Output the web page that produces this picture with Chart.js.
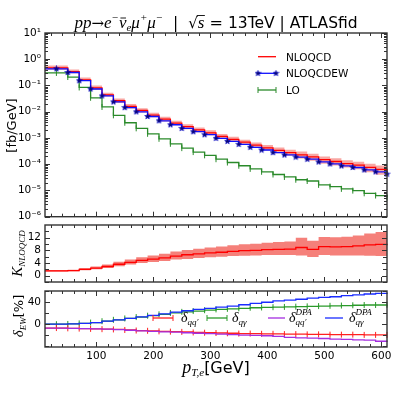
<!DOCTYPE html>
<html lang="en">
<head>
<meta charset="UTF-8">
<meta name="viewport" content="width=device-width, initial-scale=1.0">
<title>pT,e spectrum</title>
<script src="https://cdn.jsdelivr.net/npm/chart.js"></script>
<style>
  body { margin: 0; background: #fff; }
  #wrap { position: relative; width: 399px; height: 399px; overflow: hidden; }
  #wrap canvas { position: absolute; left: 0; }
  #mainChart { top: 0; }
  #kChart { top: 222px; }
  #ewChart { top: 286px; }
</style>
</head>
<body>
<div id="wrap">
  <canvas id="mainChart" width="399" height="222"></canvas>
  <canvas id="kChart" width="399" height="64"></canvas>
  <canvas id="ewChart" width="399" height="113"></canvas>
</div>
<script>
// histogram bin edges, p_T,e [GeV]
const binEdges = [10, 30, 50, 70, 90, 110, 130, 150, 170, 190, 210, 230, 250, 270, 290, 310,
                  330, 350, 370, 390, 410, 430, 450, 470, 490, 510, 530, 550, 570, 590, 610];

// top panel, dsigma/dpT [fb/GeV]
const nloqcdew = [0.433, 0.313, 0.152, 0.0736, 0.040, 0.0237, 0.0144, 0.0099, 0.00658, 0.00452,
                  0.00319, 0.00231, 0.00173, 0.00133, 0.000966, 0.000743, 0.000573, 0.000441, 0.000348, 0.000277,
                  0.000225, 0.000187, 0.000155, 0.000122, 0.000103, 0.0000861, 0.000075, 0.0000608, 0.0000511, 0.0000418];
const nloqcd = [0.465, 0.338, 0.165, 0.0804, 0.0440, 0.0262, 0.0161, 0.0112, 0.00747, 0.00519,
                0.00369, 0.00269, 0.00203, 0.00157, 0.00115, 0.000890, 0.000690, 0.000531, 0.000422, 0.000336,
                0.000275, 0.000228, 0.000190, 0.000150, 0.000127, 0.000106, 0.0000926, 0.0000755, 0.0000635, 0.0000519];
const nloqcdUp = [0.572, 0.406, 0.201, 0.0989, 0.0532, 0.0322, 0.0195, 0.0136, 0.00919, 0.00638,
                  0.00454, 0.00331, 0.00250, 0.00195, 0.00143, 0.00111, 0.000863, 0.000669, 0.000536, 0.000430,
                  0.000355, 0.000308, 0.000253, 0.000197, 0.000169, 0.000142, 0.000125, 0.000105, 0.0000895, 0.0000763];
const nloqcdDown = [0.395, 0.294, 0.147, 0.0691, 0.0378, 0.0217, 0.0134, 0.0093, 0.0062, 0.00426,
                    0.00303, 0.00215, 0.00164, 0.00127, 0.000932, 0.000721, 0.000552, 0.000425, 0.000333, 0.000262,
                    0.000212, 0.000164, 0.000135, 0.000105, 0.0000889, 0.0000742, 0.0000639, 0.0000498, 0.0000400, 0.0000322];
const lo = [0.30, 0.21, 0.084, 0.034, 0.0152, 0.0073, 0.0038, 0.00233, 0.00144, 0.00093,
            0.00060, 0.00041, 0.00029, 0.000218, 0.000155, 0.000116, 0.0000873, 0.0000664, 0.0000515, 0.0000405,
            0.0000327, 0.0000256, 0.0000229, 0.0000163, 0.0000140, 0.0000115, 0.00000985, 0.00000778, 0.00000641, 0.0000054];

// middle panel, K factor with scale band
const kFactor = [1.5, 1.6, 2.0, 2.4, 2.9, 3.6, 4.2, 4.8, 5.2, 5.6, 6.2, 6.6, 6.9, 7.2, 7.4,
                 7.7, 7.9, 8.0, 8.2, 8.3, 8.4, 8.9, 8.3, 9.2, 9.1, 9.2, 9.4, 9.7, 9.9, 9.6];
const kUp = [1.8, 1.9, 2.4, 2.9, 3.5, 4.4, 5.1, 5.8, 6.4, 6.9, 7.6, 8.1, 8.5, 8.9, 9.2,
             9.6, 9.9, 10.1, 10.4, 10.6, 10.8, 12.0, 11.0, 12.2, 12.1, 12.3, 12.7, 13.3, 13.8, 14.0];
const kDown = [1.3, 1.4, 1.7, 2.0, 2.4, 3.0, 3.5, 4.0, 4.3, 4.6, 5.1, 5.3, 5.6, 5.8, 6.0,
               6.2, 6.3, 6.4, 6.5, 6.5, 6.5, 6.4, 5.9, 6.5, 6.4, 6.4, 6.4, 6.3, 6.2, 5.9];

// bottom panel, EW corrections [%]
const dQQ = [-7, -7.5, -8, -8.5, -9, -9.5, -10.5, -11.5, -12, -13, -13.5, -14, -15, -15.5, -16,
             -16.5, -17, -17, -17.5, -17.5, -18, -18, -18.5, -18.5, -19, -19, -19, -19.5, -19.5, -19.5];
const dQG = [0, 0.5, 1.5, 3, 5.5, 8, 10.5, 13, 15.5, 18, 20.5, 22.5, 24, 25.5, 27,
             28, 29, 30, 30.5, 31, 31.5, 32, 32.5, 33, 33.5, 34, 34.5, 35, 35, 35.5];
const dQQdpa = [-7, -7.5, -8, -8.5, -9, -10, -11, -12, -13, -14, -14.5, -15.5, -16.5, -17, -18,
                -19, -20, -20.5, -21, -22, -24, -25, -25.5, -26, -27, -27.5, -28.5, -29, -31, -32.5];
const dQGdpa = [0, 0.5, 1.5, 3, 5.5, 8, 10.5, 13.5, 16, 19, 22, 24.5, 27, 29, 31,
                33, 35.5, 38, 40, 42.5, 44, 45.5, 47.5, 49, 50, 52, 53.5, 55, 56, 57.5];

// tick labels
const xTickValues = [100, 200, 300, 400, 500, 600];
const logDecades = [-6, -5, -4, -3, -2, -1, 0, 1];
const kTickValues = [0, 4, 8, 12];
const ewTickValues = [0, 40];

const SUP = { '-': '\u207B', '0': '\u2070', '1': '\u00B9', '2': '\u00B2', '3': '\u00B3',
              '4': '\u2074', '5': '\u2075', '6': '\u2076', '7': '\u2077', '8': '\u2078', '9': '\u2079' };
const supText = n => String(n).split('').map(c => SUP[c]).join('');
const fi = n => `italic ${n}px "Liberation Serif"`;
const fs = n => `${n}px "DejaVu Sans"`;

// value of bin i drawn from its left to its right edge, marker sits on the right edge
function stepPoints(vals) {
  const pts = [{ x: binEdges[0], y: vals[0] }];
  vals.forEach((v, i) => pts.push({ x: binEdges[i + 1], y: v }));
  return pts;
}
function stepSet(label, vals, style) {
  return Object.assign({
    label: label, data: stepPoints(vals), stepped: 'before', fill: false,
    borderWidth: 1.3, pointRadius: 0, clip: 8
  }, style);
}
const hideFirst = r => c => c.dataIndex === 0 ? 0 : r;

function makeStar(size) {
  const c = document.createElement('canvas');
  c.width = c.height = size;
  const g = c.getContext('2d');
  const r = size / 2 - 0.5, ri = r * 0.45, m = size / 2;
  g.beginPath();
  for (let k = 0; k < 10; k++) {
    const a = -Math.PI / 2 + k * Math.PI / 5, rr = k % 2 ? ri : r;
    g.lineTo(m + rr * Math.cos(a), m + rr * Math.sin(a));
  }
  g.closePath();
  g.fillStyle = '#0a0a6e';
  g.fill();
  g.strokeStyle = '#0000cc';
  g.lineWidth = 0.6;
  g.stroke();
  return c;
}
const star = makeStar(7);

// text with sub/superscripts: segments laid out left to right, "stack" shares x with previous
function drawRich(ctx, segs, x, y, align) {
  let pos = 0, start = 0;
  const placed = segs.map(s => {
    ctx.font = s.f;
    const w = ctx.measureText(s.t).width;
    let at;
    if (s.stack) { at = start; pos = Math.max(pos, start + w); }
    else { at = pos; start = pos; pos += w; }
    return { s, at, w };
  });
  const x0 = align === 'center' ? x - pos / 2 : x;
  ctx.textAlign = 'left';
  ctx.textBaseline = 'alphabetic';
  placed.forEach(({ s, at, w }) => {
    ctx.font = s.f;
    ctx.fillStyle = '#000';
    ctx.fillText(s.t, x0 + at, y + (s.dy || 0));
    if (s.over) {
      ctx.beginPath();
      ctx.lineWidth = 0.9;
      ctx.strokeStyle = '#000';
      ctx.moveTo(x0 + at + s.over[0], y + s.over[1]);
      ctx.lineTo(x0 + at + w + (s.over[2] || 0), y + s.over[1]);
      ctx.stroke();
    }
  });
  return pos;
}

// box with inward ticks on all four sides
const frame = {
  id: 'frame',
  afterDraw(chart, args, o) {
    const { ctx, chartArea: a } = chart;
    const x = chart.scales.x, y = chart.scales.y;
    const seg = (x1, y1, x2, y2) => { ctx.moveTo(x1, y1); ctx.lineTo(x2, y2); };
    ctx.save();
    ctx.beginPath();
    ctx.strokeStyle = '#333';
    ctx.lineWidth = 1;
    for (let v = o.xStep; v < x.max; v += o.xStep) {
      const px = Math.round(x.getPixelForValue(v)) + 0.5;
      const len = v % o.xMajor === 0 ? 5 : 3;
      seg(px, a.bottom, px, a.bottom - len);
      seg(px, a.top, px, a.top + len);
    }
    const yTick = (v, len) => {
      const py = Math.round(y.getPixelForValue(v)) + 0.5;
      seg(a.left, py, a.left + len, py);
      seg(a.right, py, a.right - len, py);
    };
    y.ticks.forEach(t => yTick(t.value, 5));
    if (o.logMinor) {
      for (let p = Math.floor(Math.log10(y.min)); p < Math.log10(y.max); p++) {
        for (let m = 2; m < 10; m++) {
          const v = m * Math.pow(10, p);
          if (v > y.min && v < y.max) yTick(v, 3);
        }
      }
    } else {
      for (let v = Math.ceil(y.min / o.yStep) * o.yStep; v < y.max; v += o.yStep) yTick(v, 4);
    }
    ctx.stroke();
    ctx.lineWidth = 1.4;
    ctx.strokeRect(a.left, a.top, a.right - a.left, a.bottom - a.top);
    ctx.restore();
  }
};

// titles, axis labels and hand placed legends
const annot = {
  id: 'annot',
  afterDraw(chart, args, o) {
    const ctx = chart.ctx;
    (o.texts || []).forEach(t => {
      ctx.save();
      ctx.translate(t.x, t.y);
      if (t.rotate) ctx.rotate(-Math.PI / 2);
      drawRich(ctx, t.segs, 0, 0, t.align || 'center');
      ctx.restore();
    });
    (o.legend || []).forEach(it => {
      const ds = chart.data.datasets[it.ds];
      ctx.save();
      ctx.beginPath();
      ctx.strokeStyle = ds.borderColor;
      ctx.lineWidth = ds.borderWidth;
      ctx.moveTo(it.x1, it.y);
      ctx.lineTo(it.x2, it.y);
      ctx.stroke();
      if (ds.legendMarker) {
        [it.x1, it.x2].forEach(px => {
          ctx.fillStyle = ds.pointBackgroundColor || ds.borderColor;
          ctx.strokeStyle = ds.pointBorderColor || ds.borderColor;
          ctx.lineWidth = 1;
          Chart.helpers.drawPoint(ctx, { pointStyle: ds.pointStyle, rotation: ds.pointRotation || 0,
            radius: ds.legendMarker, borderWidth: 1 }, px, it.y);
        });
      }
      drawRich(ctx, it.segs, it.tx, it.ty, 'left');
      ctx.restore();
    });
  }
};

const tickFont = { family: 'DejaVu Sans', size: 10.5 };
function xScale(show) {
  const s = {
    type: 'linear', min: 10, max: 610, display: show,
    grid: { display: false, drawTicks: false }, border: { display: false },
    afterBuildTicks: sc => { sc.ticks = xTickValues.map(v => ({ value: v })); },
    ticks: { color: '#000', font: tickFont, padding: 3, maxRotation: 0 }
  };
  if (show) s.afterFit = sc => { sc.height = 52; sc.paddingLeft = 0; sc.paddingRight = 0; };
  return s;
}
function yScale(extra, tickVals) {
  return Object.assign({
    grid: { display: false, drawTicks: false }, border: { display: false },
    afterBuildTicks: sc => { sc.ticks = tickVals.map(v => ({ value: v })); },
    afterFit: sc => { sc.width = 45; sc.paddingTop = 0; sc.paddingBottom = 0; },
    ticks: { color: '#000', font: tickFont, padding: 4 }
  }, extra);
}
const base = {
  responsive: false, animation: false, events: [],
  elements: { line: { tension: 0 } }
};

new Chart(document.getElementById('mainChart'), {
  type: 'line',
  data: {
    datasets: [
      stepSet('NLOQCD band up', nloqcdUp, { borderWidth: 0, borderColor: 'rgba(0,0,0,0)', fill: '+1',
        backgroundColor: 'rgba(240,60,50,0.45)', order: 5 }),
      stepSet('NLOQCD band down', nloqcdDown, { borderWidth: 0, borderColor: 'rgba(0,0,0,0)', order: 5 }),
      stepSet('NLOQCD', nloqcd, { borderColor: '#ff0000', order: 3 }),
      stepSet('LO', lo, { borderColor: '#2a8a2a', pointStyle: 'line', pointRotation: 90,
        pointRadius: hideFirst(3), pointBorderColor: '#2a8a2a', pointBorderWidth: 1,
        legendMarker: 3, order: 2 }),
      stepSet('NLOQCDEW', nloqcdew, { borderColor: '#1010ff', pointStyle: star,
        pointRadius: hideFirst(3.5), legendMarker: 3.5, order: 1 })
    ]
  },
  options: Object.assign({}, base, {
    layout: { padding: { top: 33, right: 12, bottom: 4, left: 0 } },
    scales: {
      x: xScale(false),
      y: yScale({ type: 'logarithmic', min: 1e-6, max: 10,
        ticks: { color: '#000', font: tickFont, padding: 4,
          callback: v => '10' + supText(Math.round(Math.log10(v))) } },
        logDecades.map(p => Math.pow(10, p)))
    },
    plugins: {
      legend: { display: false }, tooltip: { enabled: false },
      frame: { xStep: 20, xMajor: 100, logMinor: true },
      annot: {
        texts: [
          { x: 216, y: 28, segs: [
            { t: 'pp', f: fi(17) }, { t: '\u2192', f: '15px "DejaVu Serif"' }, { t: 'e', f: fi(17) },
            { t: '\u2212', f: fi(11), dy: -7 }, { t: '\u03BD', f: fi(17), over: [1.5, -10, -0.5] },
            { t: 'e', f: fi(11), dy: 3 }, { t: '\u03BC', f: fi(17) }, { t: '+', f: fi(11), dy: -7 },
            { t: '\u03BC', f: fi(17) }, { t: '\u2212', f: fi(11), dy: -7 },
            { t: '  |  ', f: fs(15.5) }, { t: '\u221A', f: fs(15) },
            { t: 's', f: fi(17), over: [-1, -12.5, 0.5] }, { t: ' = ', f: '16px "DejaVu Serif"' },
            { t: '13TeV | ATLASfid', f: fs(15.5) }] },
          { x: 16, y: 125.5, rotate: true, segs: [{ t: '[fb/GeV]', f: fs(13) }] }
        ],
        legend: [
          { ds: 2, x1: 258, x2: 276, y: 56.7, tx: 286, ty: 60.5, segs: [{ t: 'NLOQCD', f: fs(10.5) }] },
          { ds: 4, x1: 258, x2: 276, y: 73.3, tx: 286, ty: 77.1, segs: [{ t: 'NLOQCDEW', f: fs(10.5) }] },
          { ds: 3, x1: 258, x2: 276, y: 90, tx: 286, ty: 93.8, segs: [{ t: 'LO', f: fs(10.5) }] }
        ]
      }
    }
  }),
  plugins: [frame, annot]
});

new Chart(document.getElementById('kChart'), {
  type: 'line',
  data: {
    datasets: [
      stepSet('K up', kUp, { borderWidth: 0, borderColor: 'rgba(0,0,0,0)', fill: '+1',
        backgroundColor: 'rgba(240,60,50,0.65)', order: 5 }),
      stepSet('K down', kDown, { borderWidth: 0, borderColor: 'rgba(0,0,0,0)', order: 5 }),
      stepSet('K NLOQCD', kFactor, { borderColor: '#ff0000', order: 1 })
    ]
  },
  options: Object.assign({}, base, {
    layout: { padding: { top: 3, right: 12, bottom: 4, left: 0 } },
    scales: {
      x: xScale(false),
      y: yScale({ type: 'linear', min: -2, max: 16 }, kTickValues)
    },
    plugins: {
      legend: { display: false }, tooltip: { enabled: false },
      frame: { xStep: 20, xMajor: 100, yStep: 2 },
      annot: {
        texts: [
          { x: 22, y: 31.5, rotate: true, segs: [{ t: 'K', f: fi(15) }, { t: 'NLOQCD', f: fi(9), dy: 3 }] }
        ]
      }
    }
  }),
  plugins: [frame, annot]
});

new Chart(document.getElementById('ewChart'), {
  type: 'line',
  data: {
    datasets: [
      stepSet('dqq', dQQ, { borderColor: '#ff2020', pointStyle: 'line', pointRotation: 90,
        pointRadius: hideFirst(3), pointBorderColor: '#ff2020', pointBorderWidth: 1, legendMarker: 3, order: 3 }),
      stepSet('dqg', dQG, { borderColor: '#2a9a2a', pointStyle: 'line', pointRotation: 90,
        pointRadius: hideFirst(3), pointBorderColor: '#2a9a2a', pointBorderWidth: 1, legendMarker: 3, order: 3 }),
      stepSet('dqq DPA', dQQdpa, { borderColor: '#a42ee0', order: 1 }),
      stepSet('dqg DPA', dQGdpa, { borderColor: '#1a2cff', order: 1 })
    ]
  },
  options: Object.assign({}, base, {
    layout: { padding: { top: 3, right: 12, bottom: 0, left: 0 } },
    scales: {
      x: xScale(true),
      y: yScale({ type: 'linear', min: -41.5, max: 60.5 }, ewTickValues)
    },
    plugins: {
      legend: { display: false }, tooltip: { enabled: false },
      frame: { xStep: 20, xMajor: 100, yStep: 20 },
      annot: {
        texts: [
          { x: 23, y: 30, rotate: true, segs: [{ t: '\u03B4', f: fi(15) }, { t: 'EW', f: fi(9), dy: 3 },
            { t: '[%]', f: fs(13) }] },
          { x: 216, y: 87, segs: [{ t: 'p', f: fi(18) }, { t: 'T,e', f: fi(11), dy: 3 },
            { t: '[GeV]', f: fs(16) }] }
        ],
        legend: [
          { ds: 0, x1: 153, x2: 173, y: 32, tx: 181, ty: 36,
            segs: [{ t: '\u03B4', f: fi(14) }, { t: 'qq\u2032', f: fi(9), dy: 3 }] },
          { ds: 1, x1: 207, x2: 227, y: 32, tx: 232, ty: 36,
            segs: [{ t: '\u03B4', f: fi(14) }, { t: 'q\u03B3', f: fi(9), dy: 3 }] },
          { ds: 2, x1: 268, x2: 285, y: 32, tx: 289, ty: 36,
            segs: [{ t: '\u03B4', f: fi(14) }, { t: 'qq\u2032', f: fi(9), dy: 3 },
                   { t: 'DPA', f: fi(9), dy: -7, stack: true }] },
          { ds: 3, x1: 325, x2: 343, y: 32, tx: 349, ty: 36,
            segs: [{ t: '\u03B4', f: fi(14) }, { t: 'q\u03B3', f: fi(9), dy: 3 },
                   { t: 'DPA', f: fi(9), dy: -7, stack: true }] }
        ]
      }
    }
  }),
  plugins: [frame, annot]
});
</script>
</body>
</html>
